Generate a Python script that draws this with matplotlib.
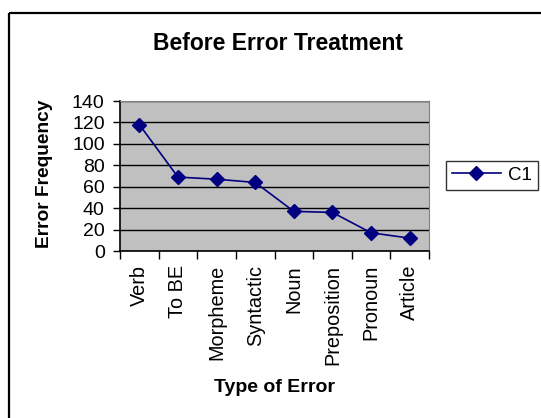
import numpy as np
import matplotlib
matplotlib.use('Agg')
from matplotlib import pyplot as plt
from matplotlib.patches import Rectangle

# data
categories = ['Verb', 'To BE', 'Morpheme', 'Syntactic', 'Noun',
              'Preposition', 'Pronoun', 'Article']
c1 = [118, 69, 67, 64, 37, 36, 17, 12]
yticks = [0, 20, 40, 60, 80, 100, 120, 140]

plt.rcParams['font.family'] = ['Liberation Sans', 'DejaVu Sans']

W, H = 541, 418
fig = plt.figure(figsize=(W / 100, H / 100), dpi=100)

# outer chart frame (right and bottom edges fall outside the image)
fig.patches.append(Rectangle((9 / W, 1 - 13 / H), 1, -1, transform=fig.transFigure,
                             fill=False, edgecolor='black', linewidth=1.6))

left, right, top, bottom = 120, 429, 101, 251
ax = fig.add_axes([left / W, 1 - bottom / H, (right - left) / W, (bottom - top) / H])
ax.set_facecolor('#C0C0C0')

x = np.arange(len(categories))
ax.plot(x, c1, color='#000080', marker='D', markersize=7, linewidth=1.2, label='C1')

ax.set_xlim(-0.5, len(categories) - 0.5)
ax.set_ylim(0, 140)
ax.set_yticks(yticks)
ax.tick_params(axis='y', labelsize=14, length=5, width=1, pad=6)
ax.yaxis.grid(True, color='black', linewidth=1)
ax.set_axisbelow(True)

# ticks between categories, labels at centres
ax.set_xticks(np.arange(len(categories) + 1) - 0.5)
ax.set_xticklabels([])
ax.set_xticks(x, minor=True)
ax.set_xticklabels(categories, minor=True, rotation=90, fontsize=14.3)
ax.tick_params(axis='x', which='major', length=6, width=1)
ax.tick_params(axis='x', which='minor', length=0, pad=10)

for s in ['top', 'right']:
    ax.spines[s].set_color('#808080')
for s in ['left', 'bottom']:
    ax.spines[s].set_color('black')
    ax.spines[s].set_linewidth(1.2)

fig.text(278 / W, 1 - 44 / H, 'Before Error Treatment', ha='center', va='center',
         fontsize=16.5, fontweight='bold')
fig.text(45 / W, 1 - 174 / H, 'Error Frequency', ha='center', va='center',
         rotation=90, fontsize=13.8, fontweight='bold')
fig.text(275 / W, 1 - 388 / H, 'Type of Error', ha='center', va='center',
         fontsize=14, fontweight='bold')

leg = fig.legend(loc='center', bbox_to_anchor=(492 / W, 1 - 175.5 / H), fontsize=13.5,
                 frameon=True, fancybox=False, edgecolor='black', handlelength=2.6,
                 borderpad=0.3, handletextpad=0.4, borderaxespad=0)
leg.get_frame().set_linewidth(1)

fig.savefig('out.png', dpi=100, facecolor='white')
